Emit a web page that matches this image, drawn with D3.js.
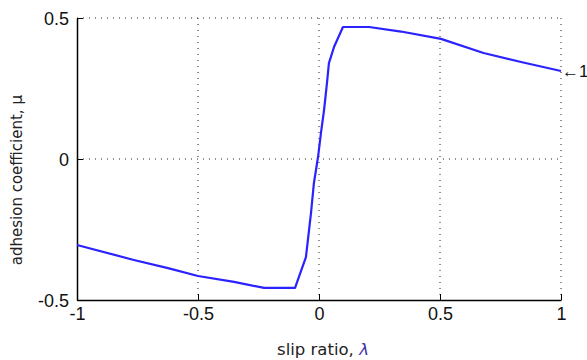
<!DOCTYPE html>
<html>
<head>
<meta charset="utf-8">
<script src="https://cdn.jsdelivr.net/npm/d3@7"></script>
<style>
  body { margin: 0; background: #fff; }
  .tick text { font-family: "Liberation Sans", Arial, sans-serif; }
</style>
</head>
<body>
<div id="chart"></div>
<script>
// slip ratio vs adhesion coefficient
var slip = [-1, -0.765, -0.624, -0.5, -0.351, -0.227, -0.099, -0.054, -0.033, -0.021, -0.004,
            0.008, 0.021, 0.033, 0.041, 0.062, 0.099, 0.207, 0.339, 0.504, 0.68, 0.835, 1];
var adhesion = [-0.305, -0.358, -0.387, -0.415, -0.436, -0.457, -0.457, -0.348, -0.191, -0.085, 0.007,
                0.092, 0.174, 0.27, 0.34, 0.397, 0.468, 0.468, 0.452, 0.426, 0.376, 0.344, 0.312];
var xTicks = [-1, -0.5, 0, 0.5, 1];
var yTicks = [-0.5, 0, 0.5];

var svgWidth = 587;
var svgHeight = 360;

var margin = { top: 18, right: 26, bottom: 60, left: 77 };
var width = svgWidth - margin.left - margin.right;
var height = svgHeight - margin.top - margin.bottom;

var svg = d3.select("#chart")
  .append("svg")
  .attr("width", svgWidth)
  .attr("height", svgHeight);

var chartGroup = svg.append("g")
  .attr("transform", `translate(${margin.left}, ${margin.top})`);

var xScale = d3.scaleLinear().domain([-1, 1]).range([0, width]);
var yScale = d3.scaleLinear().domain([-0.5, 0.5]).range([height, 0]);

// plain hyphen minus like the original
var fmt = d => String(d);

// dotted grid (top and right edges are dotted too)
chartGroup.selectAll(".vgrid")
  .data(xTicks.slice(1))
  .enter()
  .append("line")
  .attr("x1", d => xScale(d)).attr("x2", d => xScale(d))
  .attr("y1", 0).attr("y2", height)
  .attr("stroke", "#222")
  .attr("stroke-dasharray", "1,5");

chartGroup.selectAll(".hgrid")
  .data(yTicks.slice(1))
  .enter()
  .append("line")
  .attr("y1", d => yScale(d)).attr("y2", d => yScale(d))
  .attr("x1", 0).attr("x2", width)
  .attr("stroke", "#222")
  .attr("stroke-dasharray", "1,5");

// axes, ticks pointing inward
var xAxis = d3.axisBottom(xScale).tickValues(xTicks).tickSizeInner(-6).tickSizeOuter(0).tickPadding(7)
  .tickFormat(fmt);
var yAxis = d3.axisLeft(yScale).tickValues(yTicks).tickSizeInner(-6).tickSizeOuter(0).tickPadding(8)
  .tickFormat(fmt);

var gx = chartGroup.append("g")
  .attr("transform", `translate(0, ${height})`)
  .call(xAxis);
var gy = chartGroup.append("g")
  .call(yAxis);

[gx, gy].forEach(function(g) {
  g.select(".domain").attr("stroke", "#000").attr("stroke-width", 1.5);
  g.selectAll(".tick line").attr("stroke", "#000");
  g.selectAll(".tick text").attr("font-size", 18).attr("fill", "#111");
});
gy.selectAll(".tick text").attr("dy", "0.36em");

// curve
var line = d3.line()
  .x((d, i) => xScale(slip[i]))
  .y(d => yScale(d));

chartGroup.append("path")
  .datum(adhesion)
  .attr("d", line)
  .attr("fill", "none")
  .attr("stroke", "#2a22ff")
  .attr("stroke-width", 2.2)
  .attr("stroke-linejoin", "round");

// annotation at the right end
chartGroup.append("text")
  .attr("x", xScale(1) + 1)
  .attr("y", yScale(adhesion[adhesion.length - 1]))
  .attr("dy", "0.36em")
  .attr("font-family", "Liberation Sans, Arial, sans-serif")
  .attr("font-size", 17)
  .attr("fill", "#111")
  .text("\u21901");

// axis labels
chartGroup.append("text")
  .attr("transform", "rotate(-90)")
  .attr("x", 0 - yScale(-0.075))
  .attr("y", 0 - margin.left + 22)
  .attr("text-anchor", "middle")
  .attr("font-family", "DejaVu Sans, Verdana, sans-serif")
  .attr("font-size", 15)
  .attr("fill", "#222")
  .text("adhesion coefficient, \u03bc");

chartGroup.append("text")
  .attr("x", width / 2 + 4)
  .attr("y", height + 55)
  .attr("text-anchor", "middle")
  .attr("font-family", "DejaVu Sans, Verdana, sans-serif")
  .attr("font-size", 16.5)
  .attr("fill", "#222")
  .text("slip ratio, ")
  .append("tspan")
  .attr("font-style", "italic")
  .attr("fill", "#4433aa")
  .text("\u03bb");
</script>
</body>
</html>
